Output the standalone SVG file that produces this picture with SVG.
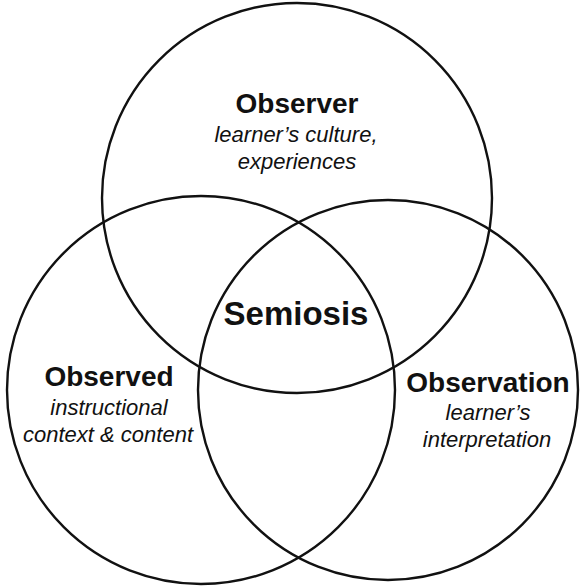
<svg xmlns="http://www.w3.org/2000/svg" width="580" height="588" viewBox="0 0 580 588">
  <style>
    .ring { fill: none; stroke: #111; stroke-width: 2.4; }
    .title { font-family: "Liberation Sans", Arial, sans-serif; font-weight: bold; font-size: 28px; fill: #111; text-anchor: middle; }
    .core { font-size: 33px; }
    .note { font-family: "Liberation Sans", Arial, sans-serif; font-style: italic; font-size: 22px; fill: #111; text-anchor: middle; }
  </style>
  <rect width="580" height="588" fill="#fff"/>

  <g id="observer">
    <circle class="ring" cx="297" cy="198" r="195"/>
    <text class="title" x="297" y="113">Observer</text>
    <text class="note" x="296" y="142">learner’s culture,</text>
    <text class="note" x="297" y="169">experiences</text>
  </g>

  <g id="observed">
    <circle class="ring" cx="201" cy="390" r="194"/>
    <text class="title" x="109" y="386">Observed</text>
    <text class="note" x="109" y="415">instructional</text>
    <text class="note" x="108" y="442">context &amp; content</text>
  </g>

  <g id="observation">
    <circle class="ring" cx="388" cy="390" r="190"/>
    <text class="title" x="488" y="392">Observation</text>
    <text class="note" x="488" y="420">learner’s</text>
    <text class="note" x="487" y="447">interpretation</text>
  </g>

  <g id="semiosis">
    <text class="title core" x="296" y="325">Semiosis</text>
  </g>
</svg>
